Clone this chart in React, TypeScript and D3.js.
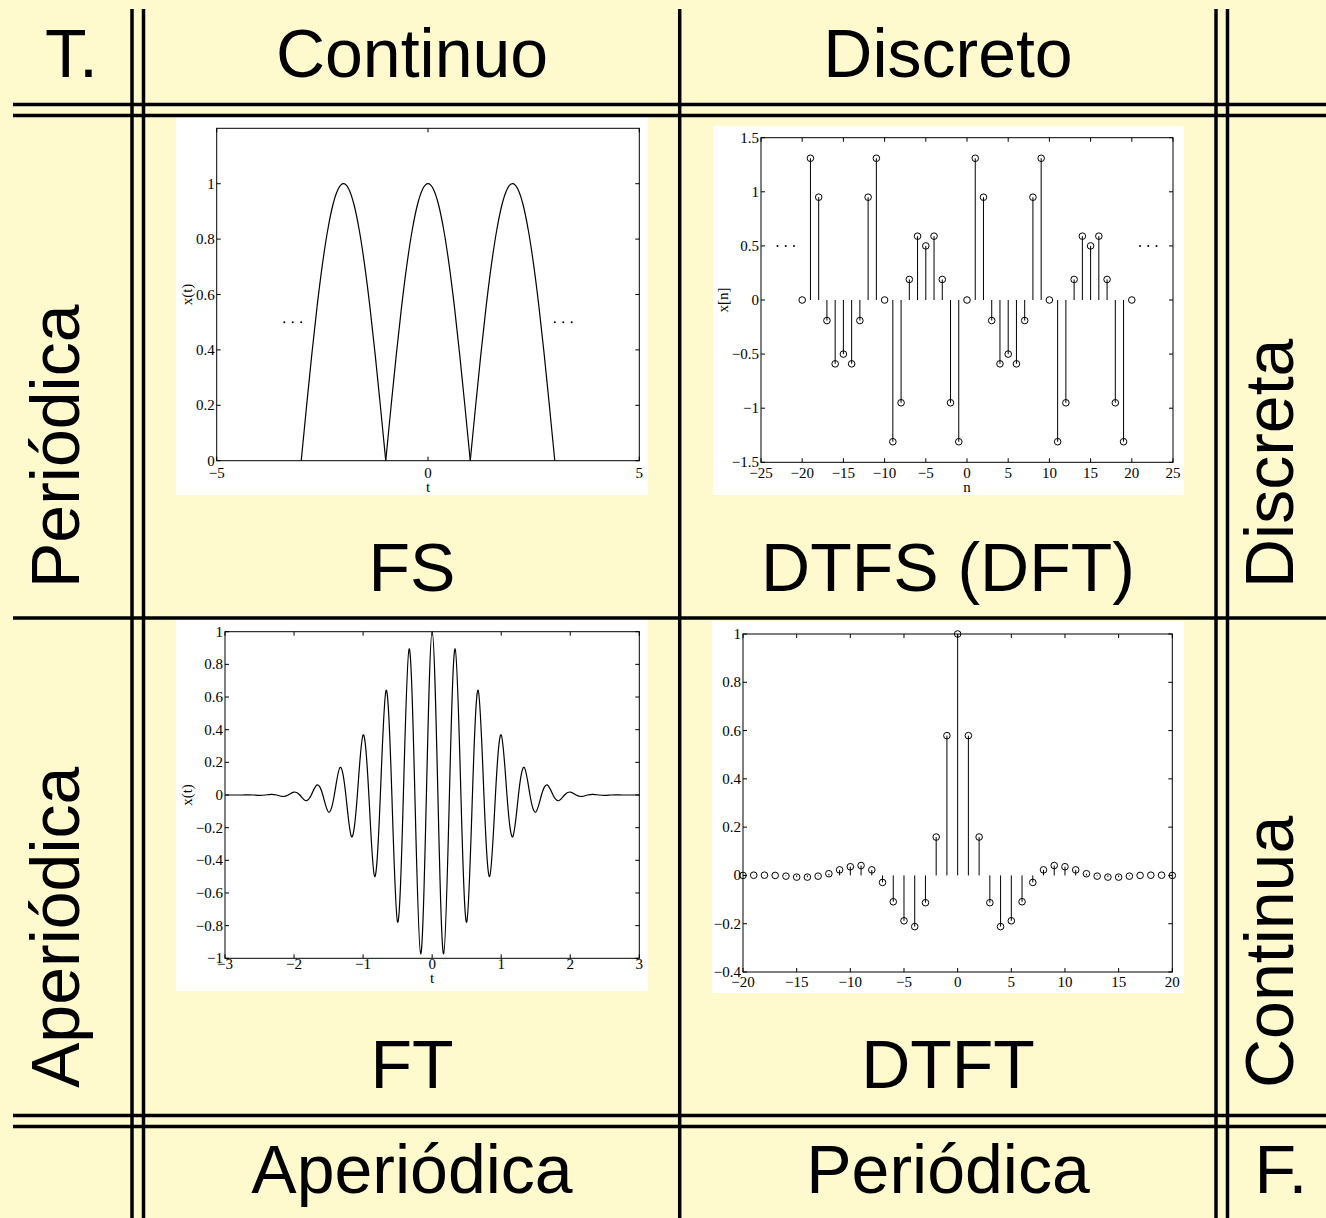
import React from 'react';
import * as d3 from 'd3';

const W = 1326;
const H = 1218;
const BG = '#FFFACD';
const SANS = 'Liberation Sans, Arial, Helvetica, sans-serif';
const SERIF = 'Liberation Serif, Times New Roman, serif';

// FS panel: x(t) read every 0.125 from t = -3 to t = 3
const fsStart = -3;
const fsStep = 0.125;
const fsValues = [
  0, 0.195, 0.383, 0.556, 0.707, 0.831, 0.924, 0.981, 1, 0.981, 0.924, 0.831, 0.707, 0.556, 0.383, 0.195,
  0, 0.195, 0.383, 0.556, 0.707, 0.831, 0.924, 0.981, 1, 0.981, 0.924, 0.831, 0.707, 0.556, 0.383, 0.195,
  0, 0.195, 0.383, 0.556, 0.707, 0.831, 0.924, 0.981, 1, 0.981, 0.924, 0.831, 0.707, 0.556, 0.383, 0.195,
  0,
];
const fsDotsLeft = [-3.4, -3.2, -3.0];
const fsDotsRight = [3.0, 3.2, 3.4];

// DTFS panel: x[n] for n = -20..20
const dtfsStart = -20;
const dtfsValues = [
  0, 1.31, 0.95, -0.19, -0.59, -0.5, -0.59, -0.19, 0.95, 1.31,
  0, -1.31, -0.95, 0.19, 0.59, 0.5, 0.59, 0.19, -0.95, -1.31,
  0, 1.31, 0.95, -0.19, -0.59, -0.5, -0.59, -0.19, 0.95, 1.31,
  0, -1.31, -0.95, 0.19, 0.59, 0.5, 0.59, 0.19, -0.95, -1.31,
  0,
];
const dtfsDotsLeft = [-23, -22, -21];
const dtfsDotsRight = [21, 22, 23];

// FT panel: x(t) read every 1/12 from t = -3 to t = 3 (peaks and zero crossings)
const ftStart = -3;
const ftStep = 1 / 12;
const ftValues = [
  0, 0, 0, 0, 0.001, 0, -0.002, 0, 0.004, 0, -0.009, 0, 0.018, 0, -0.035, 0, 0.062, 0,
  -0.105, 0, 0.169, 0, -0.256, 0, 0.368, 0, -0.499, 0, 0.641, 0, -0.779, 0, 0.895, 0, -0.973, 0,
  1,
  0, -0.973, 0, 0.895, 0, -0.779, 0, 0.641, 0, -0.499, 0, 0.368, 0, -0.256, 0, 0.169, 0, -0.105,
  0, 0.062, 0, -0.035, 0, 0.018, 0, -0.009, 0, 0.004, 0, -0.002, 0, 0.001, 0, 0, 0, 0,
];

// DTFT panel: samples for n = -20..20
const dtftStart = -20;
const dtftValues = [
  0, 0.001, 0.001, 0, -0.003, -0.007, -0.007, -0.003, 0.007, 0.023, 0.036, 0.041, 0.023, -0.029,
  -0.109, -0.188, -0.212, -0.113, 0.159, 0.579,
  1,
  0.579, 0.159, -0.113, -0.212, -0.188, -0.109, -0.029, 0.023, 0.041, 0.036, 0.023, 0.007, -0.003,
  -0.007, -0.007, -0.003, 0, 0.001, 0.001, 0,
];

// tick values
const fsXTicks = [-5, 0, 5];
const fsYTicks = [0, 0.2, 0.4, 0.6, 0.8, 1];
const dtfsXTicks = [-25, -20, -15, -10, -5, 0, 5, 10, 15, 20, 25];
const dtfsYTicks = [-1.5, -1, -0.5, 0, 0.5, 1, 1.5];
const ftXTicks = [-3, -2, -1, 0, 1, 2, 3];
const ftYTicks = [-1, -0.8, -0.6, -0.4, -0.2, 0, 0.2, 0.4, 0.6, 0.8, 1];
const dtftXTicks = [-20, -15, -10, -5, 0, 5, 10, 15, 20];
const dtftYTicks = [-0.4, -0.2, 0, 0.2, 0.4, 0.6, 0.8, 1];

const fmt = d3.format('~g');

type Box = { x0: number; x1: number; y0: number; y1: number };
type Scale = d3.ScaleLinear<number, number>;

function Axes(props: {
  box: Box;
  xDomain: [number, number];
  yDomain: [number, number];
  xTicks: number[];
  yTicks: number[];
  xTickDy: number;
  xLabel?: string;
  xLabelY?: number;
  yLabel?: string;
  yLabelX?: number;
  render: (x: Scale, y: Scale) => React.ReactNode;
}) {
  const { box, xDomain, yDomain, xTicks, yTicks } = props;
  const x = d3.scaleLinear().domain(xDomain).range([box.x0, box.x1]);
  const y = d3.scaleLinear().domain(yDomain).range([box.y1, box.y0]);
  const tl = 4;
  const fs = 15;
  return (
    <g>
      {props.render(x, y)}
      <rect x={box.x0} y={box.y0} width={box.x1 - box.x0} height={box.y1 - box.y0}
        fill="none" stroke="#000" strokeWidth={1} />
      {xTicks.map(t => (
        <g key={'x' + t}>
          <line x1={x(t)} x2={x(t)} y1={box.y1} y2={box.y1 - tl} stroke="#000" />
          <line x1={x(t)} x2={x(t)} y1={box.y0} y2={box.y0 + tl} stroke="#000" />
          <text x={x(t)} y={box.y1 + props.xTickDy} textAnchor="middle" fontFamily={SERIF} fontSize={fs}>
            {fmt(t)}
          </text>
        </g>
      ))}
      {yTicks.map(t => (
        <g key={'y' + t}>
          <line x1={box.x0} x2={box.x0 + tl} y1={y(t)} y2={y(t)} stroke="#000" />
          <line x1={box.x1} x2={box.x1 - tl} y1={y(t)} y2={y(t)} stroke="#000" />
          <text x={box.x0 - 2} y={y(t) + 5} textAnchor="end" fontFamily={SERIF} fontSize={fs}>
            {fmt(t)}
          </text>
        </g>
      ))}
      {props.xLabel && (
        <text x={(box.x0 + box.x1) / 2} y={props.xLabelY} textAnchor="middle"
          fontFamily={SERIF} fontSize={fs}>{props.xLabel}</text>
      )}
      {props.yLabel && (
        <text x={props.yLabelX} y={(box.y0 + box.y1) / 2} textAnchor="middle"
          transform={`rotate(-90, ${props.yLabelX}, ${(box.y0 + box.y1) / 2})`}
          fontFamily={SERIF} fontSize={fs}>{props.yLabel}</text>
      )}
    </g>
  );
}

function Stems({ x, y, start, values }: { x: Scale; y: Scale; start: number; values: number[] }) {
  return (
    <g>
      {values.map((v, i) => (
        <g key={i}>
          <line x1={x(start + i)} x2={x(start + i)} y1={y(0)} y2={y(v)} stroke="#000" strokeWidth={1} />
          <circle cx={x(start + i)} cy={y(v)} r={3.3} fill="none" stroke="#000" strokeWidth={1} />
        </g>
      ))}
    </g>
  );
}

function Dots({ x, y, xs, level }: { x: Scale; y: Scale; xs: number[]; level: number }) {
  return <g>{xs.map(d => <circle key={d} cx={x(d)} cy={y(level)} r={1} fill="#000" />)}</g>;
}

export default function App() {
  const big = { fontFamily: SANS, fontSize: 68, fill: '#000' };

  // split the FS arches at their zeros so the cusps stay sharp
  const fsPts = fsValues.map((v, i) => [fsStart + i * fsStep, v] as [number, number]);
  const fsArches = [fsPts.slice(0, 17), fsPts.slice(16, 33), fsPts.slice(32, 49)];
  const ftPts = ftValues.map((v, i) => [ftStart + i * ftStep, v] as [number, number]);

  const hLines = [104.5, 115.5, 618, 1115.5, 1126.5];
  const vLines = [132, 143.5, 679.7, 1216, 1227.5];

  return (
    <div style={{ position: 'absolute', left: 0, top: 0 }}>
      <svg width={W} height={H} style={{ display: 'block' }}>
        <rect x={0} y={0} width={W} height={H} fill={BG} />

        {/* white plot panels */}
        <rect x={176} y={116} width={472} height={379} fill="#fff" />
        <rect x={713} y={126} width={471} height={369} fill="#fff" />
        <rect x={176} y={619} width={472} height={372} fill="#fff" />
        <rect x={712} y={621} width={472} height={372} fill="#fff" />

        {/* FS */}
        <Axes box={{ x0: 216.7, x1: 639.3, y0: 128.3, y1: 460.7 }} xDomain={[-5, 5]} yDomain={[0, 1.2]}
          xTicks={fsXTicks} yTicks={fsYTicks} xTickDy={17} xLabel="t" xLabelY={492} yLabel="x(t)" yLabelX={192}
          render={(x, y) => {
            const line = d3.line<[number, number]>().x(d => x(d[0])).y(d => y(d[1])).curve(d3.curveMonotoneX);
            return (
              <g>
                {fsArches.map((a, i) => <path key={i} d={line(a) || ''} fill="none" stroke="#000" strokeWidth={1.2} />)}
                <Dots x={x} y={y} xs={fsDotsLeft} level={0.5} />
                <Dots x={x} y={y} xs={fsDotsRight} level={0.5} />
              </g>
            );
          }} />

        {/* DTFS */}
        <Axes box={{ x0: 761, x1: 1173, y0: 137.7, y1: 462.3 }} xDomain={[-25, 25]} yDomain={[-1.5, 1.5]}
          xTicks={dtfsXTicks} yTicks={dtfsYTicks} xTickDy={16} xLabel="n" xLabelY={492} yLabel="x[n]" yLabelX={728}
          render={(x, y) => (
            <g>
              <Stems x={x} y={y} start={dtfsStart} values={dtfsValues} />
              <Dots x={x} y={y} xs={dtfsDotsLeft} level={0.5} />
              <Dots x={x} y={y} xs={dtfsDotsRight} level={0.5} />
            </g>
          )} />

        {/* FT */}
        <Axes box={{ x0: 225, x1: 639.3, y0: 631.7, y1: 958.3 }} xDomain={[-3, 3]} yDomain={[-1, 1]}
          xTicks={ftXTicks} yTicks={ftYTicks} xTickDy={11} xLabel="t" xLabelY={983} yLabel="x(t)" yLabelX={192}
          render={(x, y) => {
            const line = d3.line<[number, number]>().x(d => x(d[0])).y(d => y(d[1])).curve(d3.curveNatural);
            return <path d={line(ftPts) || ''} fill="none" stroke="#000" strokeWidth={1.2} />;
          }} />

        {/* DTFT */}
        <Axes box={{ x0: 743, x1: 1172.3, y0: 634, y1: 972 }} xDomain={[-20, 20]} yDomain={[-0.4, 1]}
          xTicks={dtftXTicks} yTicks={dtftYTicks} xTickDy={15}
          render={(x, y) => <Stems x={x} y={y} start={dtftStart} values={dtftValues} />} />

        {/* table rules */}
        {hLines.map(v => <line key={'h' + v} x1={13} x2={W} y1={v} y2={v} stroke="#000" strokeWidth={3.5} />)}
        {vLines.map(v => <line key={'v' + v} x1={v} x2={v} y1={9} y2={H} stroke="#000" strokeWidth={3.5} />)}

        {/* headers */}
        <text x={71.5} y={77} textAnchor="middle" {...big}>T.</text>
        <text x={412} y={77} textAnchor="middle" {...big}>Continuo</text>
        <text x={948} y={77} textAnchor="middle" {...big}>Discreto</text>

        <text x={412} y={591} textAnchor="middle" {...big}>FS</text>
        <text x={948} y={591} textAnchor="middle" {...big}>DTFS (DFT)</text>
        <text x={412} y={1088} textAnchor="middle" {...big}>FT</text>
        <text x={948} y={1088} textAnchor="middle" {...big}>DTFT</text>

        <text x={412} y={1193} textAnchor="middle" {...big}>Aperiódica</text>
        <text x={948} y={1193} textAnchor="middle" {...big}>Periódica</text>
        <text x={1281} y={1193} textAnchor="middle" {...big}>F.</text>

        <text x={79} y={588} transform="rotate(-90, 79, 588)" {...big}>Periódica</text>
        <text x={79} y={1088} transform="rotate(-90, 79, 1088)" {...big}>Aperiódica</text>
        <text x={1293} y={588} transform="rotate(-90, 1293, 588)" {...big}>Discreta</text>
        <text x={1293} y={1088} transform="rotate(-90, 1293, 1088)" {...big}>Continua</text>
      </svg>
    </div>
  );
}
